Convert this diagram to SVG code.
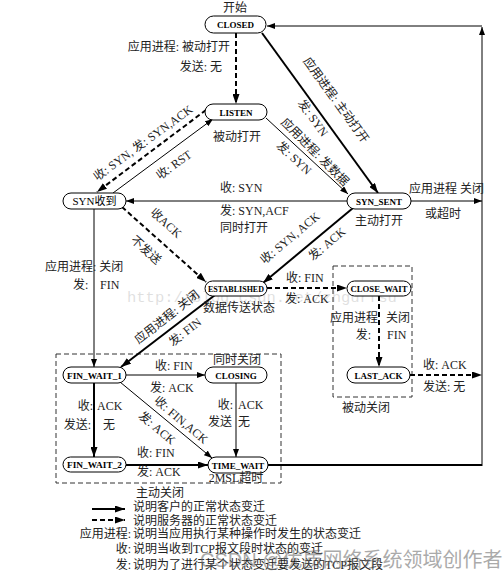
<svg xmlns="http://www.w3.org/2000/svg" width="504" height="577" viewBox="0 0 504 577">
<style>
.n rect{fill:#fff;stroke:#000;stroke-width:1}
.n text{font-family:"Liberation Serif",serif;font-weight:bold;font-size:9px;text-anchor:middle;fill:#000}
.t{font-family:"Liberation Serif","Noto Sans CJK SC",serif;font-size:12px;fill:#222}
.m{text-anchor:middle}
.e{text-anchor:end}
.thin{stroke:#000;stroke-width:1;fill:none;marker-end:url(#a)}
.thick{stroke:#000;stroke-width:2;fill:none;marker-end:url(#b)}
.dash{stroke:#000;stroke-width:2;stroke-dasharray:5 3;fill:none;marker-end:url(#b)}
.box{fill:none;stroke:#333;stroke-width:1;stroke-dasharray:5 3}
.wm{font-family:"Liberation Mono",monospace;font-size:15.5px;fill:#000;opacity:0.12}
.wm2{font-family:"Liberation Sans","Noto Sans CJK SC",sans-serif;font-size:20px;fill:#666;opacity:0.55}
</style>
<defs>
<marker id="a" markerUnits="userSpaceOnUse" markerWidth="9" markerHeight="6" refX="8" refY="3" orient="auto"><path d="M0,0 L8,3 L0,6 Z" fill="#000"/></marker>
<marker id="b" markerUnits="userSpaceOnUse" markerWidth="11" markerHeight="7" refX="10" refY="3.5" orient="auto"><path d="M0,0 L10,3.5 L0,7 Z" fill="#000"/></marker>
</defs>
<rect width="504" height="577" fill="#fff"/>

<text class="wm" x="127" y="302">http://blog.csdn.net/zhgurfsu</text>

<!-- boxes -->
<rect class="box" x="56" y="354" width="225" height="129"/>
<rect class="box" x="333" y="266" width="79" height="131"/>

<g id="connectors">
<line class="thin" x1="482" y1="466" x2="482" y2="27"/>
<line class="thin" x1="482" y1="26" x2="267" y2="26"/>
<line class="thin" x1="411" y1="201" x2="482" y2="201"/>
<line class="dash" x1="410" y1="375" x2="482" y2="375"/>
<line stroke="#000" stroke-width="2" x1="268" y1="465" x2="482" y2="465"/>
<line class="dash" x1="236" y1="33" x2="236" y2="104"/>
<line class="thick" x1="262" y1="33" x2="378" y2="193"/>
<line class="thin" x1="266" y1="118" x2="348" y2="194"/>
<line class="thin" x1="347" y1="201" x2="126" y2="201"/>
<line class="dash" x1="206" y1="110" x2="97" y2="192"/>
<line class="thin" x1="113" y1="193" x2="213" y2="119"/>
<line class="dash" x1="122" y1="207" x2="206" y2="282"/>
<line class="thick" x1="353" y1="208" x2="263" y2="283"/>
<line class="dash" x1="267" y1="288" x2="347" y2="288"/>
<line class="dash" x1="379" y1="296" x2="379" y2="367"/>
<line class="thick" x1="215" y1="295" x2="121" y2="367"/>
<line class="thin" x1="94" y1="209" x2="94" y2="367"/>
<line class="thin" x1="126" y1="375" x2="205" y2="375"/>
<line class="thin" x1="120" y1="382" x2="212" y2="458"/>
<line class="thick" x1="94" y1="383" x2="94" y2="457"/>
<line class="thin" x1="236" y1="383" x2="236" y2="457"/>
<line class="thick" x1="126" y1="465" x2="208" y2="465"/>
<line class="thick" x1="92" y1="509" x2="125" y2="509"/>
<line class="dash" x1="92" y1="520" x2="125" y2="520"/>
</g>

<g id="CLOSED" class="n"><rect x="205" y="16" width="61" height="17" rx="8.5"/><text x="235.5" y="28">CLOSED</text></g>
<g id="LISTEN" class="n"><rect x="205" y="104" width="62" height="16" rx="8"/><text x="236" y="115.5">LISTEN</text></g>
<g id="SYN_RCVD" class="n"><rect x="63" y="193" width="63" height="16" rx="8"/><text x="94.5" y="205" style="font-weight:normal;font-size:11px;font-family:'Liberation Serif','Noto Sans CJK SC',serif">SYN收到</text></g>
<g id="SYN_SENT" class="n"><rect x="347" y="193" width="64" height="16" rx="8"/><text x="379" y="204.5">SYN_SENT</text></g>
<g id="ESTABLISHED" class="n"><rect x="205" y="281" width="62" height="15" rx="7.5"/><text x="236" y="292" textLength="56" lengthAdjust="spacingAndGlyphs">ESTABLISHED</text></g>
<g id="CLOSE_WAIT" class="n"><rect x="347" y="281" width="64" height="15" rx="7.5"/><text x="379" y="292" textLength="57" lengthAdjust="spacingAndGlyphs">CLOSE_WAIT</text></g>
<g id="LAST_ACK" class="n"><rect x="347" y="367" width="63" height="16" rx="8"/><text x="378.5" y="378.5">LAST_ACK</text></g>
<g id="FIN_WAIT_1" class="n"><rect x="63" y="367" width="63" height="16" rx="8"/><text x="94.5" y="378.5" textLength="55" lengthAdjust="spacingAndGlyphs">FIN_WAIT_1</text></g>
<g id="CLOSING" class="n"><rect x="205" y="367" width="62" height="16" rx="8"/><text x="236" y="378.5">CLOSING</text></g>
<g id="FIN_WAIT_2" class="n"><rect x="63" y="457" width="63" height="15" rx="7.5"/><text x="94.5" y="468" textLength="55" lengthAdjust="spacingAndGlyphs">FIN_WAIT_2</text></g>
<g id="TIME_WAIT" class="n"><rect x="208" y="457" width="60" height="16" rx="8"/><text x="238" y="468.5">TIME_WAIT</text></g>

<g id="labels" class="t">
<text class="m" x="235" y="12">开始</text>
<text class="e" x="230" y="51">应用进程: 被动打开</text>
<text class="e" x="222" y="71">发送: 无</text>
<text class="m" x="237" y="141">被动打开</text>
<text class="m" x="379" y="225">主动打开</text>
<text class="m" x="239" y="312">数据传送状态</text>
<text x="409" y="193">应用进程 关闭</text>
<text class="m" x="443" y="218">或超时</text>
<text x="220" y="192">收: SYN</text>
<text x="220" y="215">发: SYN,ACF</text>
<text x="220" y="232">同时打开</text>
<text x="286" y="282">收: FIN</text>
<text x="285" y="303">发: ACK</text>
<text class="e" x="378" y="322">应用进程</text>
<text x="386" y="322">关闭</text>
<text class="e" x="371" y="339">发:</text>
<text x="387" y="339">FIN</text>
<text class="m" x="366" y="412">被动关闭</text>
<text x="423" y="369">收: ACK</text>
<text x="423" y="391">发送: 无</text>
<text x="45" y="271">应用进程: 关闭</text>
<text x="73" y="289">发:</text>
<text x="100" y="289">FIN</text>
<text x="213" y="364">同时关闭</text>
<text x="155" y="370">收: FIN</text>
<text x="150" y="392">发: ACK</text>
<text class="e" x="93" y="410">收:</text>
<text x="97" y="410">ACK</text>
<text class="e" x="91" y="429">发送:</text>
<text x="103" y="429">无</text>
<text class="e" x="233" y="409">收:</text>
<text x="238" y="409">ACK</text>
<text class="e" x="232" y="426">发送</text>
<text x="238" y="426">无</text>
<text x="137" y="457">收: FIN</text>
<text x="137" y="476">发: ACK</text>
<text class="m" x="236" y="482">2MSL超时</text>
<text class="m" x="160" y="497">主动关闭</text>

<text class="m" transform="translate(336,100) rotate(54)" dy="4">应用进程: 主动打开</text>
<text class="m" transform="translate(313,118) rotate(54)" dy="4">发: SYN</text>
<text class="m" transform="translate(315,152) rotate(45)" dy="4">应用进程: 发数据</text>
<text class="m" transform="translate(294,158) rotate(43)" dy="4">发: SYN</text>
<text class="m" transform="translate(143,143) rotate(-36)" dy="4">收: SYN, 发: SYN,ACK</text>
<text class="m" transform="translate(174,165) rotate(-36)" dy="4">收: RST</text>
<text class="m" transform="translate(166,223) rotate(42)" dy="4">收ACK</text>
<text class="m" transform="translate(146,250) rotate(42)" dy="4">不发送</text>
<text class="m" transform="translate(290,238) rotate(-40)" dy="4">收: SYN, ACK</text>
<text class="m" transform="translate(327,244) rotate(-40)" dy="4">发: ACK</text>
<text class="m" transform="translate(167,317) rotate(-38)" dy="4">应用进程: 关闭</text>
<text class="m" transform="translate(185,332) rotate(-38)" dy="4">发: FIN</text>
<text class="m" transform="translate(181,420) rotate(40)" dy="4">收: FIN,ACK</text>
<text class="m" transform="translate(157,428) rotate(40)" dy="4">发: ACK</text>

<text x="133" y="511">说明客户的正常状态变迁</text>
<text x="133" y="525">说明服务器的正常状态变迁</text>
<text class="e" x="131" y="538">应用进程:</text>
<text x="133" y="538">说明当应用执行某种操作时发生的状态变迁</text>
<text class="e" x="131" y="553">收:</text>
<text x="133" y="553">说明当收到TCP报文段时状态的变迁</text>
<text class="e" x="131" y="569">发:</text>
<text x="133" y="569">说明为了进行某个状态变迁要发送的TCP报文段</text>
</g>

<text class="wm2" x="200" y="567">CSDN @优质网络系统领域创作者</text>
</svg>
